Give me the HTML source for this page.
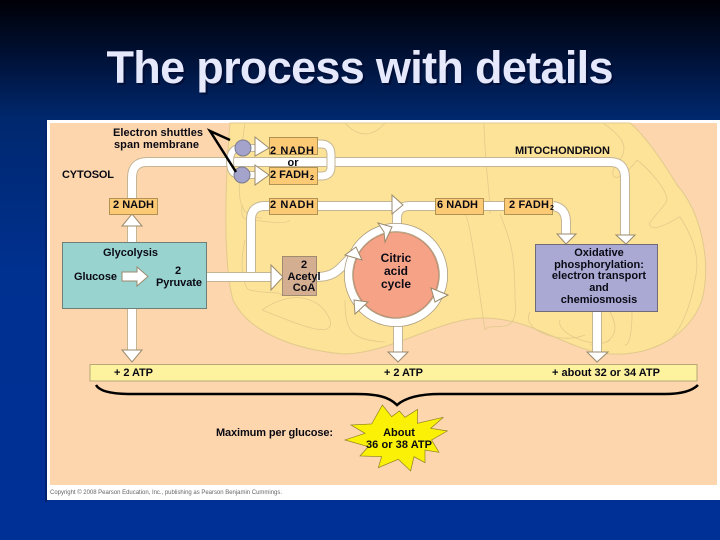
<!DOCTYPE html>
<html><head><meta charset="utf-8"><style>
html,body{margin:0;padding:0;width:720px;height:540px;overflow:hidden;background:#00268a}
svg{display:block}
text{font-family:"Liberation Sans",Arial,sans-serif;font-weight:bold;font-size:11px;fill:#0a0a14}
.p0{fill:none;stroke:#c4b595;stroke-width:10;stroke-linejoin:round}
.p1{fill:none;stroke:#fff;stroke-width:8;stroke-linejoin:round}
.h{fill:#fff;stroke:#9a8a6c;stroke-width:1}
.b{fill:#fcca74;stroke:#b09255;stroke-width:1}
.m{fill:none;stroke:#e2ca8c;stroke-width:.8}
.c{text-anchor:middle}
</style></head><body>
<svg width="720" height="540" viewBox="0 0 720 540" xmlns="http://www.w3.org/2000/svg">
<defs><linearGradient id="bg" x1="0" y1="0" x2="0" y2="1">
<stop offset="0" stop-color="#000006"/><stop offset=".1" stop-color="#001033"/><stop offset=".22" stop-color="#00286e"/><stop offset=".5" stop-color="#003090"/><stop offset="1" stop-color="#003096"/></linearGradient></defs>
<rect width="720" height="540" fill="url(#bg)"/>
<text x="362" y="85" class="c" style="font-size:45px;fill:#000a30;opacity:.7" textLength="507" lengthAdjust="spacing">The process with details</text>
<text x="360" y="83" class="c" style="font-size:45px;fill:#e6e8fb" textLength="507" lengthAdjust="spacing">The process with details</text>

<rect x="45" y="120" width="2" height="382" fill="#00226e"/>
<rect x="47" y="120" width="673" height="380" fill="#fff"/>
<rect x="50" y="123" width="667" height="362" fill="#fdd6ae"/>
<path d="M230 123C226 170 222 260 233 300C250 335 300 350 343 354C390 354 440 318 483 318C530 318 560 345 600 353C650 360 690 335 702 300C712 260 700 210 677 185C665 165 645 135 630 123Z" fill="#fde397" stroke="#e2ca8c"/>
<path class="m" d="M245 123C238 170 238 200 242 205C245 215 252 218 262 218M242 205C240 225 250 218 253 220M253 220C270 222 285 225 290 220M245 240C238 270 245 290 250 290C270 295 280 290 282 296M262 310C290 290 320 295 330 320C335 340 300 325 262 310M345 300C345 330 350 340 385 342M345 123C360 140 375 135 385 123M484 123C485 170 490 190 490 214M485 330C480 300 470 215 465 215M500 214C510 240 515 250 515 300C520 340 490 320 485 330M603 123C620 135 630 145 620 160C605 175 615 190 637 160C650 170 667 190 667 200C660 215 640 225 655 228C670 225 680 215 680 217C695 240 700 260 695 280C690 310 680 330 670 340M560 320C555 335 600 350 610 340M632 312C632 330 630 345 625 345M610 312C620 330 615 345 590 345M530 312C520 330 560 345 585 335"/>

<!-- pipes -->
<path class="p0" d="M132 226V350"/><path class="p1" d="M132 226V350"/>
<path class="p0" d="M132 198V178Q132 162 147 162H610Q625 162 625 178V236"/><path class="p1" d="M132 198V178Q132 162 147 162H610Q625 162 625 178V236"/>
<path class="p0" d="M230 162Q230 148 240 148H256M230 162Q230 175 240 175H256" style="stroke-width:8"/><path class="p1" d="M230 162Q230 148 240 148H256M230 162Q230 175 240 175H256" style="stroke-width:6"/>
<path class="p0" d="M318 144H321Q331 144 331 155V167Q331 176 321 176H318" style="stroke-width:9"/><path class="p1" d="M318 144H321Q331 144 331 155V167Q331 176 321 176H318" style="stroke-width:7"/>
<path class="p0" d="M269 206H265Q251 206 251 220V272"/><path class="p1" d="M269 206H265Q251 206 251 220V272"/>
<path class="p0" d="M206 277H273"/><path class="p1" d="M206 277H273"/>
<path class="p0" d="M318 206H394"/><path class="p1" d="M318 206H394"/>
<path class="p0" d="M397 226V218Q397 206 410 206H504"/><path class="p1" d="M397 226V218Q397 206 410 206H504"/>
<path class="p0" d="M553 206Q566 208 566 222V236"/><path class="p1" d="M553 206Q566 208 566 222V236"/>
<path class="p0" d="M317 277C340 277 342 262 356 254"/><path class="p1" d="M317 277C340 277 342 262 356 254"/>
<path class="p0" d="M398 326V353"/><path class="p1" d="M398 326V353"/>
<path class="p0" d="M597 312V353"/><path class="p1" d="M597 312V353"/>

<!-- cycle -->
<circle cx="396" cy="275" r="47.500" fill="none" stroke="#a8987a" stroke-width="9"/>
<circle cx="396" cy="275" r="47.500" fill="none" stroke="#fff" stroke-width="7.500"/>
<circle cx="396" cy="275" r="42.500" fill="#f5a287" stroke="#a8786a" stroke-width=".6"/>
<polygon class="h" points="378,223 392,227 385,242 384,232"/>
<polygon class="h" points="356,247 345,255 362,260"/>
<polygon class="h" points="448,295 431,288 435,302"/>
<polygon class="h" points="354,300 368,302 355,314"/>

<!-- arrowheads -->
<polygon class="h" points="132,214 122,226 142,226"/>
<polygon class="h" points="122,350 142,350 132,362"/>
<polygon class="h" points="388,352 408,352 398,362"/>
<polygon class="h" points="587,352 608,352 597,362"/>
<polygon class="h" points="557,234 576,234 566,244"/>
<polygon class="h" points="616,235 635,235 626,244"/>
<polygon class="h" points="255,137 269,148 255,156"/>
<polygon class="h" points="255,165 269,175 255,185"/>
<polygon class="h" points="392,195 403,205 392,214"/>
<polygon class="h" points="271,265 283,277 271,290"/>

<!-- boxes -->
<rect class="b" x="269.500" y="137.500" width="48" height="17"/>
<rect class="b" x="269.500" y="167.500" width="48" height="17"/>
<rect class="b" x="109.500" y="198.500" width="48" height="16"/>
<rect class="b" x="269.500" y="198.500" width="48" height="16"/>
<rect class="b" x="435.500" y="198.500" width="48" height="16"/>
<rect class="b" x="504.500" y="198.500" width="48" height="16"/>
<rect x="62.500" y="242.500" width="144" height="66" fill="#99d3d0" stroke="#6e7e78"/>
<rect x="282.500" y="256.500" width="34" height="39" fill="#d3ae90" stroke="#a08a70"/>
<rect x="535.500" y="244.500" width="122" height="67" fill="#a9a9d4" stroke="#6e6a78"/>
<path class="h" d="M122 272H137V267L148 276.500L137 286V281H122Z"/>
<circle cx="243" cy="148" r="8" fill="#a3a3cc" stroke="#7b7b8e"/>
<circle cx="242" cy="175" r="8" fill="#a3a3cc" stroke="#7b7b8e"/>

<!-- ATP bar, brace, shuttles -->
<rect x="90" y="364.500" width="607" height="16.500" fill="#fdf29e" stroke="#b8a878"/>
<path d="M96 385C100 392 115 394 130 394H355C375 394 388 396 397 405C405 398 420 394 440 394H665C680 394 692 391 698 385" fill="none" stroke="#000" stroke-width="2.500"/>
<path d="M230 140L210 131L236 172" fill="none" stroke="#000" stroke-width="2.500"/>
<polygon transform="translate(340 300) scale(.3333)" fill="#fbf106" stroke="#8a7f20" stroke-width="2" points="127,315 155,350 178,333 195,352 233,328 232,370 310,352 272,385 322,393 275,420 297,457 255,450 255,488 222,470 212,513 175,478 115,503 125,470 60,468 85,440 15,420 75,400 33,375 95,372"/>

<!-- labels -->
<text x="113" y="136" textLength="90" lengthAdjust="spacing">Electron shuttles</text>
<text x="114" y="148" textLength="85" lengthAdjust="spacing">span membrane</text>
<text x="62" y="178" textLength="52" lengthAdjust="spacing">CYTOSOL</text>
<text x="515" y="154" textLength="95" lengthAdjust="spacing">MITOCHONDRION</text>
<text x="270" y="154" textLength="44" lengthAdjust="spacing">2 NADH</text>
<text x="293" y="166" class="c">or</text>
<text x="270" y="178" textLength="39" lengthAdjust="spacing">2 FADH</text><text x="310" y="180" style="font-size:7px">2</text>
<text x="113" y="208" textLength="41" lengthAdjust="spacing">2 NADH</text>
<text x="270" y="208" textLength="44" lengthAdjust="spacing">2 NADH</text>
<text x="437" y="208" textLength="41" lengthAdjust="spacing">6 NADH</text>
<text x="509" y="208" textLength="40" lengthAdjust="spacing">2 FADH</text><text x="550" y="210" style="font-size:7px">2</text>
<text x="103" y="256" textLength="55" lengthAdjust="spacing">Glycolysis</text>
<text x="74" y="280" textLength="43" lengthAdjust="spacing">Glucose</text>
<text x="178" y="274" class="c">2</text>
<text x="156" y="286" textLength="46" lengthAdjust="spacing">Pyruvate</text>
<text x="304" y="268" class="c">2</text>
<text x="304" y="280" class="c">Acetyl</text>
<text x="304" y="291" class="c">CoA</text>
<text x="396" y="262" class="c" style="font-size:12px">Citric</text>
<text x="396" y="275" class="c" style="font-size:12px">acid</text>
<text x="396" y="288" class="c" style="font-size:12px">cycle</text>
<text x="599" y="256" class="c">Oxidative</text>
<text x="599" y="268" class="c">phosphorylation:</text>
<text x="599" y="279" class="c">electron transport</text>
<text x="599" y="291" class="c">and</text>
<text x="599" y="303" class="c">chemiosmosis</text>
<text x="114" y="376" textLength="39" lengthAdjust="spacing">+ 2 ATP</text>
<text x="384" y="376" textLength="39" lengthAdjust="spacing">+ 2 ATP</text>
<text x="552" y="376" textLength="108" lengthAdjust="spacing">+ about 32 or 34 ATP</text>
<text x="216" y="436" textLength="117" lengthAdjust="spacing">Maximum per glucose:</text>
<text x="399" y="436" class="c">About</text>
<text x="366" y="448" textLength="66" lengthAdjust="spacing">36 or 38 ATP</text>
<text x="50" y="494" textLength="232" lengthAdjust="spacing" style="font-size:6px;font-weight:normal;fill:#666">Copyright © 2008 Pearson Education, Inc., publishing as Pearson Benjamin Cummings.</text>
</svg>
</body></html>
